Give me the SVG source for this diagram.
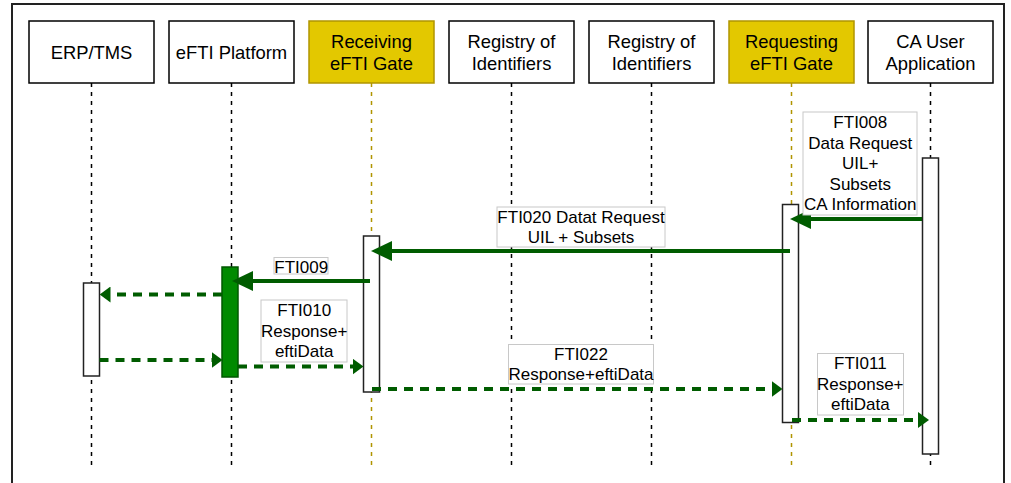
<svg xmlns="http://www.w3.org/2000/svg" width="1011" height="483" viewBox="0 0 1011 483">
<style>
text{font-family:"Liberation Sans",Arial,Helvetica,sans-serif;fill:#000;text-anchor:middle}
.t{font-size:18.4px}
.l{font-size:17px}
.box{fill:#fff;stroke:#000;stroke-width:1.5}
.gold{fill:#E3C800;stroke:#B09500;stroke-width:1.5}
.life{stroke:#000;stroke-width:1.5;stroke-dasharray:4 5;fill:none}
.lifeg{stroke:#B09500;stroke-width:1.5;stroke-dasharray:4 5;fill:none}
.act{fill:#fff;stroke:#222;stroke-width:1.5}
.actg{fill:#008A00;stroke:#005700;stroke-width:1.5}
.sol{stroke:#005C00;stroke-width:4;fill:none;marker-end:url(#ah)}
.dsh{stroke:#005C00;stroke-width:4;fill:none;stroke-dasharray:9 7;marker-end:url(#ahd)}
.lab{fill:#fff;stroke:#C8C8C8;stroke-width:1}
</style>
<defs>
<marker id="ah" markerUnits="userSpaceOnUse" markerWidth="21" markerHeight="20" viewBox="0 0 21 20" refX="11" refY="10" orient="auto">
<path d="M0,0 L21,10 L0,20 Z" fill="#005C00"/>
</marker>
<marker id="ahd" markerUnits="userSpaceOnUse" markerWidth="11" markerHeight="16" viewBox="0 0 11 16" refX="5" refY="8" orient="auto">
<path d="M0,0 L11,8 L0,16 Z" fill="#005C00"/>
</marker>
</defs>
<rect x="12" y="4" width="992" height="495" fill="#fff" stroke="#222" stroke-width="2"/>
<g id="lifelines">
<line class="life" x1="91.5" y1="83" x2="91.5" y2="469"/>
<line class="life" x1="231.5" y1="83" x2="231.5" y2="469"/>
<line class="lifeg" x1="371.5" y1="83" x2="371.5" y2="469"/>
<line class="life" x1="511.5" y1="83" x2="511.5" y2="469"/>
<line class="life" x1="651.5" y1="83" x2="651.5" y2="469"/>
<line class="lifeg" x1="791.5" y1="83" x2="791.5" y2="469"/>
<line class="life" x1="930.5" y1="83" x2="930.5" y2="469"/>
</g>
<g id="erp">
<rect class="box" x="29" y="21" width="125" height="62"/>
<text class="t" x="91.5" y="58.5">ERP/TMS</text>
<rect class="act" x="83.5" y="283" width="16" height="93"/>
</g>
<g id="platform">
<rect class="box" x="169" y="21" width="125" height="62"/>
<text class="t" x="231.5" y="58.5">eFTI Platform</text>
<rect class="actg" x="222" y="267" width="16" height="110"/>
</g>
<g id="receiving">
<rect class="gold" x="309" y="21" width="125" height="62"/>
<text class="t" x="371.5" y="47.5">Receiving</text>
<text class="t" x="371.5" y="70">eFTI Gate</text>
<rect class="act" x="363.5" y="236" width="16" height="156"/>
</g>
<g id="registry1">
<rect class="box" x="449" y="21" width="125" height="62"/>
<text class="t" x="511.5" y="47.5">Registry of</text>
<text class="t" x="511.5" y="70">Identifiers</text>
</g>
<g id="registry2">
<rect class="box" x="589" y="21" width="125" height="62"/>
<text class="t" x="651.5" y="47.5">Registry of</text>
<text class="t" x="651.5" y="70">Identifiers</text>
</g>
<g id="requesting">
<rect class="gold" x="729" y="21" width="125" height="62"/>
<text class="t" x="791.5" y="47.5">Requesting</text>
<text class="t" x="791.5" y="70">eFTI Gate</text>
<rect class="act" x="782.5" y="204.5" width="16" height="218"/>
</g>
<g id="causer">
<rect class="box" x="868" y="21" width="125" height="62"/>
<text class="t" x="930.5" y="47.5">CA User</text>
<text class="t" x="930.5" y="70">Application</text>
<rect class="act" x="922.5" y="158" width="16" height="296"/>
</g>
<g id="connectors">
<line class="sol" x1="922" y1="219" x2="800" y2="219"/>
<line class="sol" x1="790" y1="251" x2="381" y2="251"/>
<line class="sol" x1="370" y1="281" x2="242" y2="281"/>
<line class="dsh" x1="222" y1="294.5" x2="105.5" y2="294.5"/>
<line class="dsh" x1="99.5" y1="360" x2="216.5" y2="360"/>
<line class="dsh" x1="238" y1="366.5" x2="357.5" y2="366.5"/>
<line class="dsh" x1="372" y1="389" x2="776.5" y2="389"/>
<line class="dsh" x1="792" y1="420" x2="923" y2="420"/>
</g>
<g id="labels">
<g id="lbl-fti008">
<rect class="lab" x="803" y="112" width="114" height="103"/>
<text class="l" x="860.3" y="128.3">FTI008</text>
<text class="l" x="860.3" y="148.7">Data Request</text>
<text class="l" x="860.3" y="169.1">UIL+</text>
<text class="l" x="860.3" y="189.5">Subsets</text>
<text class="l" x="860.3" y="209.9">CA Information</text>
</g>
<g id="lbl-fti020">
<rect class="lab" x="497" y="207" width="168" height="40"/>
<text class="l" x="581" y="222.7">FTI020 Datat Request</text>
<text class="l" x="581" y="242.7">UIL + Subsets</text>
</g>
<g id="lbl-fti009">
<rect class="lab" x="274" y="257.5" width="54" height="16.5"/>
<text class="l" x="301.2" y="272.5">FTI009</text>
</g>
<g id="lbl-fti010">
<rect class="lab" x="261" y="300" width="86" height="62"/>
<text class="l" x="304.2" y="316">FTI010</text>
<text class="l" x="304.2" y="336.5">Response+</text>
<text class="l" x="304.2" y="357">eftiData</text>
</g>
<g id="lbl-fti022">
<rect class="lab" x="508.5" y="344.5" width="145" height="39.5"/>
<text class="l" x="581" y="360">FTI022</text>
<text class="l" x="581" y="380">Response+eftiData</text>
</g>
<g id="lbl-fti011">
<rect class="lab" x="817.5" y="353.5" width="86" height="61.5"/>
<text class="l" x="860.3" y="369">FTI011</text>
<text class="l" x="860.3" y="389.5">Response+</text>
<text class="l" x="860.3" y="410">eftiData</text>
</g>
</g>
</svg>
